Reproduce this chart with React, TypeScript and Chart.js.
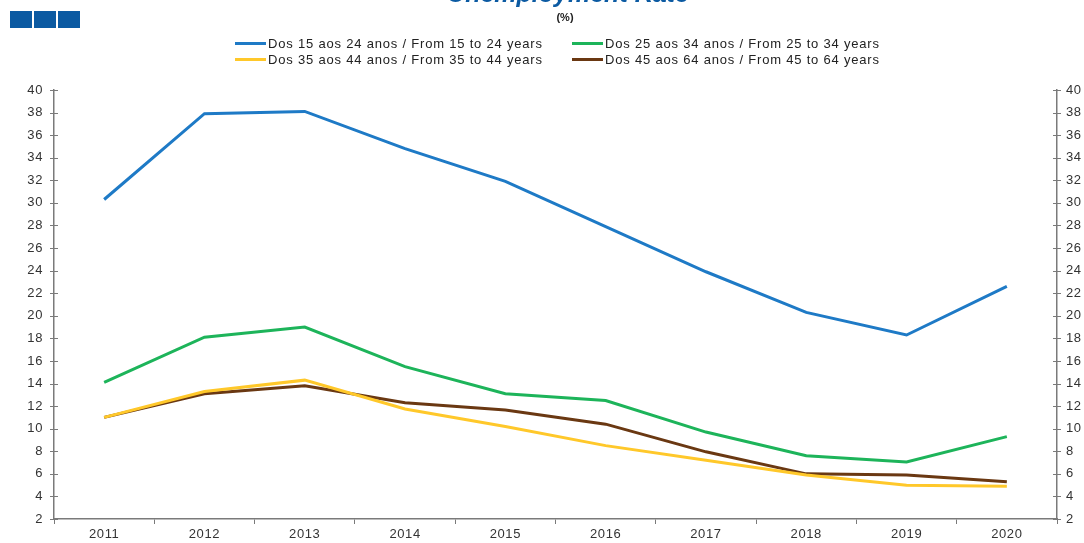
import React, { useEffect, useRef } from "react";
import { Chart, registerables } from "chart.js";

Chart.register(...registerables);

const years = ["2011", "2012", "2013", "2014", "2015", "2016", "2017", "2018", "2019", "2020"];
const age15to24 = [30.3, 37.9, 38.1, 34.8, 31.9, 27.9, 23.9, 20.3, 18.3, 22.6];
const age25to34 = [14.1, 18.1, 19.0, 15.5, 13.1, 12.5, 9.7, 7.6, 7.05, 9.3];
const age35to44 = [11.0, 13.3, 14.3, 11.75, 10.2, 8.5, 7.2, 5.9, 5.0, 4.9];
const age45to64 = [11.0, 13.1, 13.8, 12.3, 11.65, 10.4, 7.95, 6.0, 5.9, 5.3];
const seriesLabels = [
  "Dos 15 aos 24 anos / From 15 to 24 years",
  "Dos 25 aos 34 anos / From 25 to 34 years",
  "Dos 35 aos 44 anos / From 35 to 44 years",
  "Dos 45 aos 64 anos / From 45 to 64 years",
];
const seriesColors = ["#1e7ac6", "#1db45a", "#ffc82a", "#6a3812"];
const titleText = "Unemployment Rate";
const unitText = "(%)";

const FONT = "'Liberation Sans', Arial, sans-serif";

const spacing = {
  id: "spacing",
  beforeUpdate(chart: any) {
    chart.ctx.letterSpacing = "0.6px";
  },
  beforeDraw(chart: any) {
    chart.ctx.letterSpacing = "0.6px";
  },
};

const crossTicks = {
  id: "crossTicks",
  afterDraw(chart: any) {
    const ctx = chart.ctx;
    const { left, right } = chart.chartArea;
    const ys = chart.scales.y;
    ctx.save();
    ctx.strokeStyle = "#7a7a7a";
    ctx.lineWidth = 1.2;
    ys.ticks.forEach((t: any) => {
      const py = Math.round(ys.getPixelForValue(t.value)) + 0.5;
      ctx.beginPath();
      ctx.moveTo(left - 4, py);
      ctx.lineTo(left + 4, py);
      ctx.moveTo(right - 4, py);
      ctx.lineTo(right + 4, py);
      ctx.stroke();
    });
    ctx.restore();
  },
};

export default function App() {
  const ref = useRef<HTMLCanvasElement>(null);
  useEffect(() => {
    const data = [age15to24, age25to34, age35to44, age45to64];
    const chart = new Chart(ref.current!, {
      type: "line",
      data: {
        labels: years,
        datasets: data.map((d, i) => ({
          label: seriesLabels[i],
          data: d,
          borderColor: seriesColors[i],
          backgroundColor: seriesColors[i],
          borderWidth: 3,
          pointRadius: 0,
          tension: 0,
        })),
      },
      options: {
        animation: false,
        responsive: false,
        layout: { padding: { top: 90, left: 0, right: 0, bottom: 0 } },
        plugins: { legend: { display: false }, title: { display: false }, tooltip: { enabled: false } },
        scales: {
          x: {
            offset: true,
            grid: { offset: true, drawOnChartArea: false, drawTicks: true, tickLength: 5, color: "#7a7a7a" },
            border: { color: "#7a7a7a", width: 1.5 },
            ticks: { color: "#333", font: { family: FONT, size: 13 }, padding: 3, maxRotation: 0 },
            afterFit: (s: any) => { s.height = 24; },
          },
          y: {
            position: "left",
            min: 2,
            max: 40,
            grid: { display: false, drawTicks: false },
            border: { color: "#7a7a7a", width: 1.5 },
            ticks: { stepSize: 2, color: "#333", font: { family: FONT, size: 13 }, padding: 11 },
            afterFit: (s: any) => { s.width = 54; },
          },
          y2: {
            position: "right",
            min: 2,
            max: 40,
            grid: { display: false, drawTicks: false },
            border: { color: "#7a7a7a", width: 1.5 },
            ticks: { stepSize: 2, color: "#333", font: { family: FONT, size: 13 }, padding: 9 },
            afterFit: (s: any) => { s.width = 27; },
          },
        },
      },
      plugins: [spacing, crossTicks],
    });
    return () => chart.destroy();
  }, []);

  const legendItem = (i: number, x: number, y: number) => (
    <div key={i} style={{ position: "absolute", left: x, top: y, display: "flex", alignItems: "center", height: 16 }}>
      <div style={{ width: 31, height: 3, background: seriesColors[i], marginRight: 2 }} />
      <span style={{ fontFamily: FONT, fontSize: 13, letterSpacing: "0.8px", color: "#222", whiteSpace: "nowrap" }}>{seriesLabels[i]}</span>
    </div>
  );

  return (
    <div style={{ position: "absolute", left: 0, top: 0, width: 1084, height: 543, overflow: "hidden", background: "#fff" }}>
      <canvas ref={ref} width={1084} height={543} style={{ position: "absolute", left: 0, top: 0 }} />
      {[0, 1, 2].map((k) => (
        <div key={k} style={{ position: "absolute", left: 10 + k * 24, top: 11, width: 22, height: 17, background: "#0b5aa2" }} />
      ))}
      <div style={{ position: "absolute", left: 0, width: 1136, top: -21, textAlign: "center", fontFamily: FONT, fontSize: 25, fontWeight: "bold", fontStyle: "italic", color: "#0b5aa2", whiteSpace: "nowrap" }}>{titleText}</div>
      <div style={{ position: "absolute", left: 0, width: 1130, top: 11, textAlign: "center", fontFamily: FONT, fontSize: 11, fontWeight: "bold", color: "#222" }}>{unitText}</div>
      {legendItem(0, 235, 35)}
      {legendItem(1, 572, 35)}
      {legendItem(2, 235, 51)}
      {legendItem(3, 572, 51)}
    </div>
  );
}
